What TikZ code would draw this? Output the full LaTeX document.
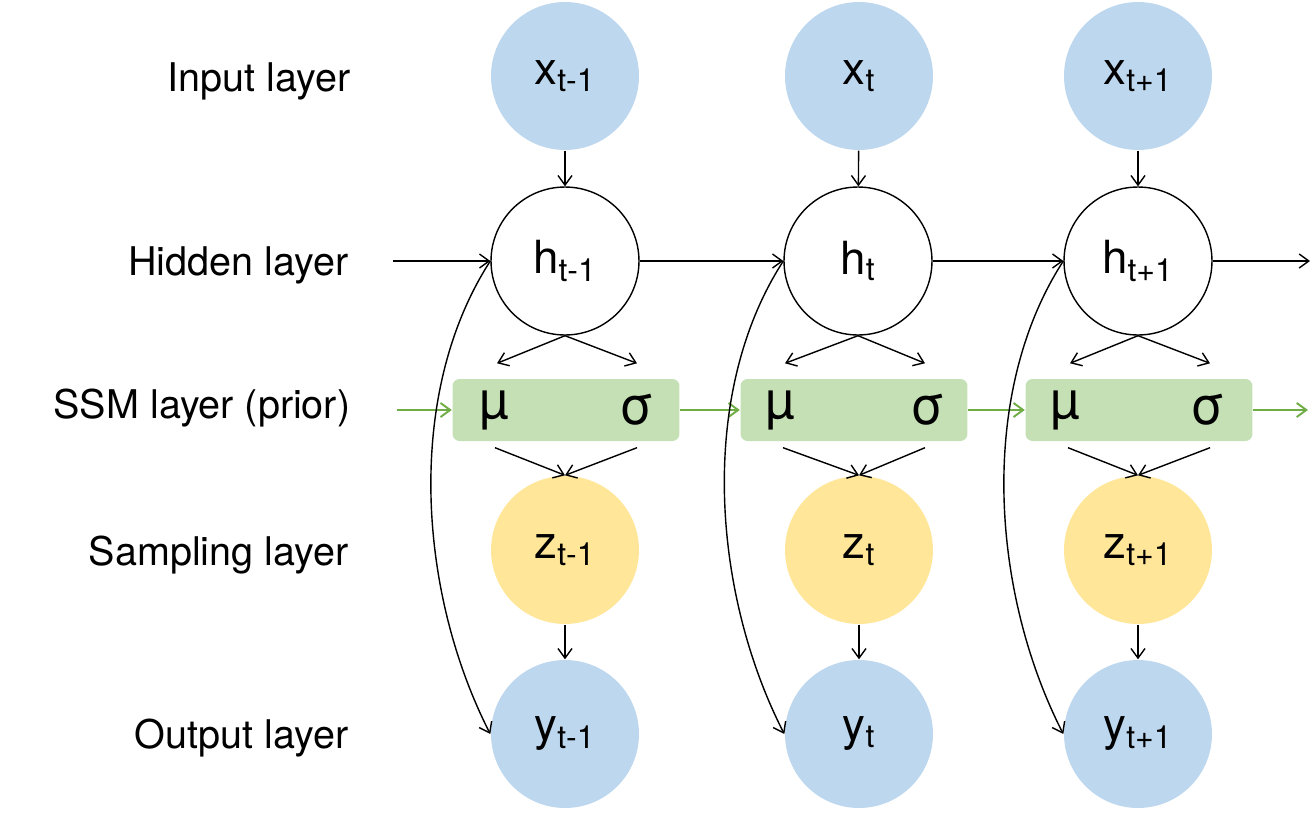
\documentclass[tikz,border=0pt]{standalone}
\usepackage{fontspec}
\setmainfont{TeX Gyre Heros}
\usetikzlibrary{arrows.meta,calc,positioning}
\definecolor{inblue}{HTML}{BDD7EE}
\definecolor{zyellow}{HTML}{FFE699}
\definecolor{ssmgreen}{HTML}{C5E0B4}
\definecolor{arrgreen}{HTML}{70AD47}

\begin{document}
\begin{tikzpicture}[
    x=0.02cm, y=-0.02cm, %one unit is one pixel of the sketch
    line width=0.8pt,
    xpt/.style={circle,fill=inblue,minimum size=2.96cm,inner sep=0pt,
        font=\fontsize{26}{30}\selectfont},
    hpt/.style={circle,draw=black,fill=white,minimum size=2.96cm,inner sep=0pt,
        font=\fontsize{26}{30}\selectfont},
    zpt/.style={circle,fill=zyellow,minimum size=2.96cm,inner sep=0pt,
        font=\fontsize{26}{30}\selectfont},
    ssm/.style={rectangle,rounded corners=4pt,fill=ssmgreen,
        minimum width=4.54cm,minimum height=1.24cm},
    greek/.style={inner sep=0pt,font=\fontsize{30}{34}\selectfont},
    lbl/.style={anchor=east,inner sep=0pt,font=\fontsize{22.5}{26}\selectfont},
    garrow/.style={->,draw=arrgreen,line width=1.1pt},
    >={Straight Barb[length=5.5pt,width=8pt]},
    ]
    \useasboundingbox (0,0) rectangle (1316,812);

    %Layer names
    \node[lbl] (linput) at (351,81) {Input layer};
    \node[lbl] (lhidden) at (349,265) {Hidden layer};
    \node[lbl] (lssm) at (351,408) {SSM layer (prior)};
    \node[lbl] (lsampling) at (349,555) {Sampling layer};
    \node[lbl] (loutput) at (349,738) {Output layer};

    %Input layer
    \node[xpt] (x1) at (565,76) {x\textsubscript{t-1}};
    \node[xpt] (x2) at (859,76) {x\textsubscript{t}};
    \node[xpt] (x3) at (1138,76) {x\textsubscript{t+1}};

    %Hidden layer
    \node[hpt] (h1) at (565,261) {h\textsubscript{t-1}};
    \node[hpt] (h2) at (858,261) {h\textsubscript{t}};
    \node[hpt] (h3) at (1138,261) {h\textsubscript{t+1}};

    %SSM layer
    \node[ssm] (s1) at (566,410) {};
    \node[ssm] (s2) at (854,410) {};
    \node[ssm] (s3) at (1139,410) {};
    \node[greek] (mu1) at (494,410) {µ};
    \node[greek] (sg1) at (637,410) {σ};
    \node[greek] (mu2) at (780,410) {µ};
    \node[greek] (sg2) at (928,410) {σ};
    \node[greek] (mu3) at (1065,410) {µ};
    \node[greek] (sg3) at (1208,410) {σ};

    %Sampling layer
    \node[zpt] (z1) at (565,550) {z\textsubscript{t-1}};
    \node[zpt] (z2) at (859,550) {z\textsubscript{t}};
    \node[zpt] (z3) at (1138,550) {z\textsubscript{t+1}};

    %Output layer
    \node[xpt] (y1) at (565,734) {y\textsubscript{t-1}};
    \node[xpt] (y2) at (859,734) {y\textsubscript{t}};
    \node[xpt] (y3) at (1138,734) {y\textsubscript{t+1}};

    %free ends
    \coordinate (hin) at (393,261);
    \coordinate (hout) at (1310,261);
    \coordinate (gin) at (397,410);
    \coordinate (gout) at (1308,410);

    %x to h
    \draw[->] (x1) -- (h1);
    \draw[->] (x2) -- (h2);
    \draw[->] (x3) -- (h3);

    %h to h
    \draw[->] (hin) -- (h1);
    \draw[->] (h1) -- (h2);
    \draw[->] (h2) -- (h3);
    \draw[->] (h3) -- (hout);

    %prior chain
    \draw[garrow] (gin) -- (s1);
    \draw[garrow] (s1) -- (s2);
    \draw[garrow] (s2) -- (s3);
    \draw[garrow] (s3) -- (gout);

    %h to mu, sigma
    \draw[->] (h1.south) -- ($(s1.north)+(-69,-15)$);
    \draw[->] (h1.south) -- ($(s1.north)+(71,-15)$);
    \draw[->] (h2.south) -- ($(s2.north)+(-69,-15)$);
    \draw[->] (h2.south) -- ($(s2.north)+(71,-15)$);
    \draw[->] (h3.south) -- ($(s3.north)+(-69,-15)$);
    \draw[->] (h3.south) -- ($(s3.north)+(71,-15)$);

    %mu, sigma to z
    \draw[->] ($(s1.south)+(-71,6)$) -- (z1.north);
    \draw[->] ($(s1.south)+(71,6)$) -- (z1.north);
    \draw[->] ($(s2.south)+(-71,6)$) -- (z2.north);
    \draw[->] ($(s2.south)+(71,6)$) -- (z2.north);
    \draw[->] ($(s3.south)+(-71,6)$) -- (z3.north);
    \draw[->] ($(s3.south)+(71,6)$) -- (z3.north);

    %z to y
    \draw[->] (z1) -- (y1);
    \draw[->] (z2) -- (y2);
    \draw[->] (z3) -- (y3);

    %h to y
    \draw[->] (h1.west) .. controls ($(h1.west)+(-86,133)$) and ($(y1.west)+(-72,-141)$) .. (y1.west);
    \draw[->] (h2.west) .. controls ($(h2.west)+(-86,133)$) and ($(y2.west)+(-72,-141)$) .. (y2.west);
    \draw[->] (h3.west) .. controls ($(h3.west)+(-86,133)$) and ($(y3.west)+(-72,-141)$) .. (y3.west);

\end{tikzpicture}
\end{document}
